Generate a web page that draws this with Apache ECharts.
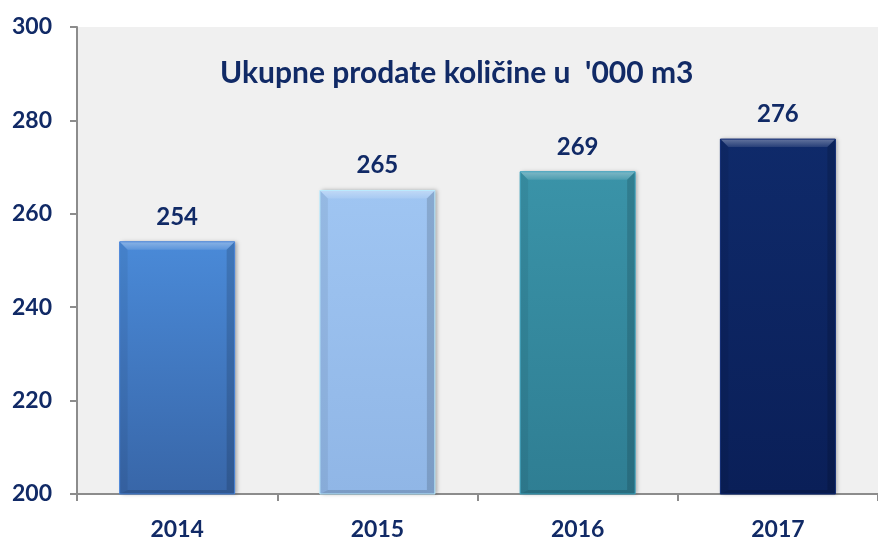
<!DOCTYPE html>
<html>
<head>
<meta charset="utf-8">
<script src="https://cdn.jsdelivr.net/npm/echarts@6/dist/echarts.min.js"></script>
<style>
  html, body { margin: 0; padding: 0; background: #fff; }
  #chart { width: 878px; height: 541px; }
</style>
</head>
<body>
<div id="chart"></div>
<script>
// data
const years = ['2014', '2015', '2016', '2017'];
const quantities = [254, 265, 269, 276];
const yTicks = [200, 220, 240, 260, 280, 300];

// bar colours, top -> bottom
const barColors = [
  ['#4a8ad8', '#3866a8'],
  ['#9fc5f2', '#90b6e6'],
  ['#3a93a8', '#2f7e93'],
  ['#0f2a6a', '#0a1f58']
];

const navy = '#112a66';
const font = 'Lato';
const barW = 115;
const bevel = 8;

const lift = echarts.color.lift;

// bar with a bevelled look, placed through the axis scales
function renderBar(params, api) {
  const i = api.value(0);
  const v = api.value(1);
  const top = api.coord([i, v]);
  const base = api.coord([i, yTicks[0]]);
  const l = top[0] - barW / 2, r = top[0] + barW / 2;
  const t = top[1], b = base[1];
  const c = barColors[i];
  return {
    type: 'group',
    children: [
      {
        type: 'rect',
        shape: { x: l, y: t, width: barW, height: b - t },
        style: {
          fill: new echarts.graphic.LinearGradient(0, 0, 0, 1, [
            { offset: 0, color: c[0] }, { offset: 1, color: c[1] }
          ]),
          shadowColor: 'rgba(0,0,0,0.3)', shadowBlur: 4, shadowOffsetX: 2, shadowOffsetY: 0
        }
      },
      { type: 'polygon', shape: { points: [[l, t], [r, t], [r - bevel, t + bevel], [l + bevel, t + bevel]] },
        style: { fill: new echarts.graphic.LinearGradient(0, 0, 0, 1, [
          { offset: 0, color: lift(c[0], 0.35) }, { offset: 1, color: lift(c[0], 0.1) }]) } },
      { type: 'polygon', shape: { points: [[l, t], [l + bevel, t + bevel], [l + bevel, b - bevel / 2], [l, b]] },
        style: { fill: 'rgba(0,0,0,0.06)' } },
      { type: 'polygon', shape: { points: [[r, t], [r - bevel, t + bevel], [r - bevel, b - bevel / 2], [r, b]] },
        style: { fill: 'rgba(0,0,0,0.14)' } },
      { type: 'polygon', shape: { points: [[l, b], [l + bevel, b - bevel / 2], [r - bevel, b - bevel / 2], [r, b]] },
        style: { fill: 'rgba(0,0,0,0.14)' } },
      { type: 'rect', shape: { x: l, y: t, width: barW, height: b - t },
        style: { fill: 'none', stroke: lift(c[1], -0.3), lineWidth: 1 } },
      {
        type: 'text',
        style: {
          text: String(v), x: top[0], y: t - 13, align: 'center', verticalAlign: 'bottom',
          fill: navy, fontFamily: font, fontWeight: 'bold', fontSize: 24
        }
      }
    ]
  };
}

const chart = echarts.init(document.getElementById('chart'));

chart.setOption({
  animation: false,
  title: {
    text: "Ukupne prodate količine u  '000 m3",
    left: 215,
    top: 53,
    textStyle: { color: navy, fontFamily: font, fontWeight: 'bold', fontSize: 30 }
  },
  grid: {
    left: 77,
    top: 27,
    width: 812,
    height: 468,
    show: true,
    backgroundColor: '#f0f0f0',
    borderWidth: 0
  },
  xAxis: {
    type: 'category',
    data: years,
    axisLine: { lineStyle: { color: '#8c8c8c', width: 2 } },
    axisTick: { show: true, length: 7, lineStyle: { color: '#8c8c8c', width: 2 } },
    axisLabel: { color: navy, fontFamily: font, fontWeight: 'bold', fontSize: 23, margin: 24 }
  },
  yAxis: {
    type: 'value',
    min: yTicks[0],
    max: yTicks[yTicks.length - 1],
    interval: yTicks[1] - yTicks[0],
    axisLine: { show: true, lineStyle: { color: '#8c8c8c', width: 2 } },
    axisTick: { show: true, length: 7, lineStyle: { color: '#8c8c8c', width: 2 } },
    splitLine: { show: false },
    axisLabel: { color: navy, fontFamily: font, fontWeight: 'bold', fontSize: 23, margin: 25 }
  },
  series: [{
    type: 'custom',
    renderItem: renderBar,
    encode: { x: 0, y: 1 },
    data: quantities.map((v, i) => [i, v])
  }]
});
</script>
</body>
</html>
